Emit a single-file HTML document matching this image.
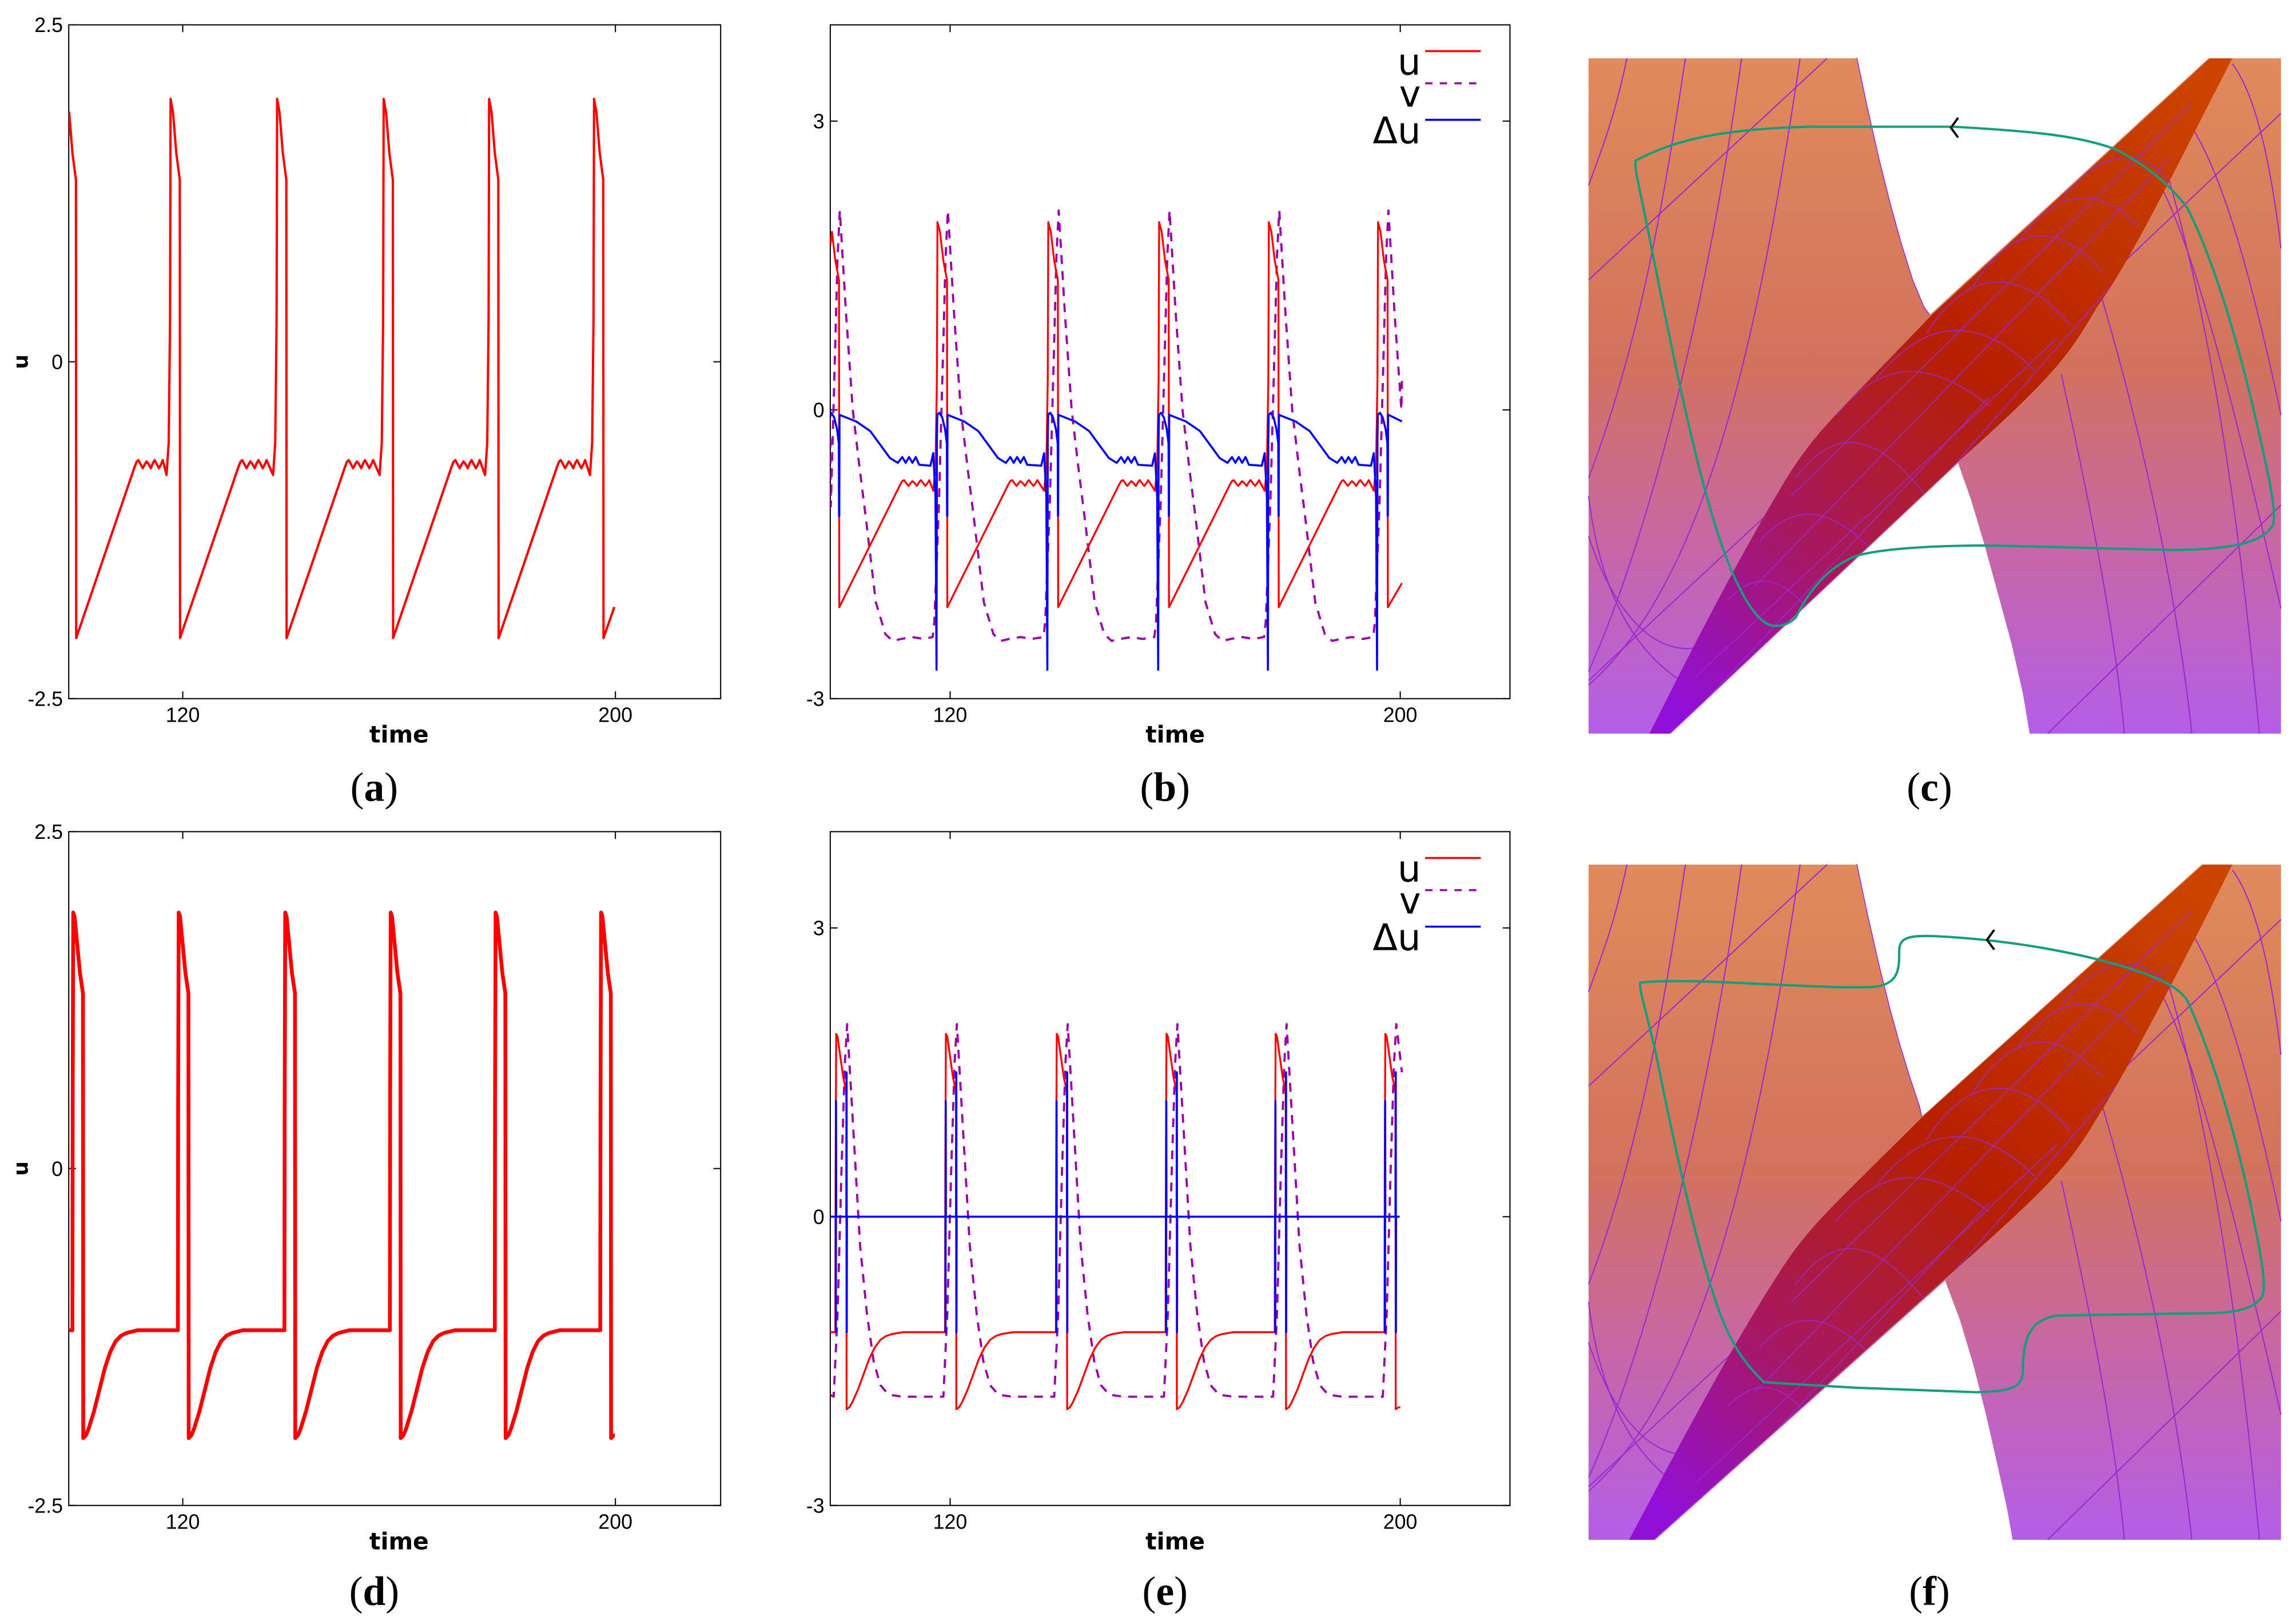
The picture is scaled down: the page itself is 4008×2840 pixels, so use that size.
<!DOCTYPE html>
<html><head><meta charset="utf-8">
<style>
html,body{margin:0;padding:0;background:#fff;}
svg{display:block;}
.tk{font-family:"Liberation Sans",sans-serif;font-size:14px;fill:#000;}
.ttl{font-family:"DejaVu Sans","Liberation Sans",sans-serif;font-size:16px;font-weight:bold;fill:#000;}
.cap{font-family:"Liberation Serif",serif;font-size:28px;fill:#000;}
.leg{font-family:"DejaVu Sans","Liberation Sans",sans-serif;font-size:25px;fill:#000;}
</style></head>
<body>
<svg id="fig" xmlns="http://www.w3.org/2000/svg" width="4008" height="2840" viewBox="0 0 1568 1111.1">
<defs>
  <linearGradient id="sheetG" x1="0" y1="0" x2="0" y2="1">
    <stop offset="0" stop-color="#e08b5b"/>
    <stop offset="0.45" stop-color="#d2725c"/>
    <stop offset="0.7" stop-color="#c868a0"/>
    <stop offset="1" stop-color="#b45ee8"/>
  </linearGradient>
  <linearGradient id="ribG" x1="0.9" y1="0" x2="0.1" y2="1">
    <stop offset="0" stop-color="#cc4400"/>
    <stop offset="0.45" stop-color="#b52000"/>
    <stop offset="0.75" stop-color="#a81860"/>
    <stop offset="1" stop-color="#9010d8"/>
  </linearGradient>
  <clipPath id="clipA"><rect x="47" y="17" width="446" height="461"/></clipPath>
  <clipPath id="clipB"><rect x="568" y="17" width="465" height="461"/></clipPath>
  <clipPath id="clipD"><rect x="47" y="569" width="446" height="461"/></clipPath>
  <clipPath id="clipE"><rect x="568" y="569" width="465" height="461"/></clipPath>
</defs>
<g id="layer"></g>
</svg>
<script>
// ---------- data: sequence 1 (panels a, b) ----------
const drops1=[100.3,119.5,139.2,158.9,178.4,197.8];
const uPostT1=[0,10.8,11.2,11.5,11.9,12.3,12.7,13.0,13.4,13.8,14.2,14.5,14.9,15.3,15.7,16.0];
const uPostV1=[-2.05,-0.78,-0.74,-0.73,-0.76,-0.79,-0.76,-0.74,-0.76,-0.79,-0.75,-0.73,-0.76,-0.79,-0.76,-0.73];
const uPreT1=[-2.5,-2.1,-1.85,-1.75,-1.3,-0.7,-0.05];
const uPreV1=[-0.84,-0.6,0.3,1.95,1.85,1.55,1.35];
const vPostT1=[0.1,1.2,2.4,3.6,4.8,6.5,8.2,9.5,11,13,15];
const vPostV1=[2.07,1.0,0,-0.6,-1.16,-2.0,-2.33,-2.4,-2.38,-2.36,-2.38];
const vPreT1=[-2.6,-2.3,-1.5,-0.8,-0.3];
const vPreV1=[-2.36,-2.2,-1.0,0.5,1.6];
const duPostT1=[0,0.04,0.4,3,5.5,7.5,9,10.4,10.8,11.2,11.5,11.8,12.1,12.4,12.7,13.0,13.3,13.6,13.9,14.2];
const duPostV1=[-1.1,-0.05,-0.06,-0.12,-0.22,-0.38,-0.5,-0.55,-0.52,-0.49,-0.52,-0.55,-0.52,-0.49,-0.52,-0.55,-0.52,-0.49,-0.53,-0.57];
const duPreT1=[-3.0,-2.5,-2.1,-1.92,-1.85,-1.78,-1.4,-0.9,-0.4,-0.08,-0.04];
const duPreV1=[-0.58,-0.45,-0.9,-2.7,-0.3,-0.05,-0.03,-0.08,-0.2,-0.35,-1.1];
// ---------- data: sequence 2 (panels d, e) ----------
const drops2=[101.6,121.1,140.8,160.3,179.7,199.2];
const u2PostT=[0,0.5,1,2,3,4,5,6,7,8,10];
const u2PostV=[-2.0,-1.98,-1.93,-1.8,-1.64,-1.48,-1.36,-1.28,-1.24,-1.22,-1.2];
const u2PreT=[-2.0,-1.95,-1.85,-1.6,-1.2,-0.6,-0.05];
const u2PreV=[-1.2,0.5,1.9,1.87,1.7,1.45,1.3];
const v2PostT=[0.1,1.2,2.4,3.6,4.8,6,7.5,10];
const v2PostV=[2.0,0.9,-0.3,-1.0,-1.5,-1.75,-1.85,-1.87];
const v2PreT=[-2.3,-1.6,-0.9,-0.3];
const v2PreV=[-1.87,-1.0,0.5,1.6];
const du2PostT=[0,0.03,0.06];
const du2PostV=[1.5,-1.2,0];
const du2PreT=[-1.93,-1.91,-1.88,-1.85,-0.04];
const du2PreV=[0,-1.2,1.2,0,0];
// tick labels
const xTicks=[120,200];
const yTicksU=[2.5,0,-2.5];
const yTicksUV=[3,0,-3];
const yTickLabelsU=["2.5","0","-2.5"];
const yTickLabelsUV=["3","0","-3"];
const legendLabels=["u","v","Δu"];

const NS="http://www.w3.org/2000/svg";
const svg=document.getElementById('fig');
const defs=svg.querySelector('defs');
const layer=document.getElementById('layer');
function mk(tag,attrs,parent){const e=document.createElementNS(NS,tag);for(const k in attrs)e.setAttribute(k,attrs[k]);(parent||layer).appendChild(e);return e;}

function build(drops,postT,postV,preT,preV,t0,v0,t1,v1){
  const pts=[[t0,v0]];
  for(let i=0;i<drops.length;i++){
    const D=drops[i];
    for(let j=0;j<preT.length;j++){const t=D+preT[j];if(t>t0&&t<t1)pts.push([t,preV[j]]);}
    const nxt=i+1<drops.length?drops[i+1]+preT[0]:Infinity;
    for(let j=0;j<postT.length;j++){const t=D+postT[j];if(t>t0&&t<t1&&t<nxt)pts.push([t,postV[j]]);}
  }
  pts.push([t1,v1]);
  return pts;
}

function makeAxes(p){
  const g=mk('g',{});
  
  
  p.sx=t=>p.x0+(t-p.tmin)/(p.tmax-p.tmin)*(p.x1-p.x0);
  p.sy=v=>p.y1-(v-p.vmin)/(p.vmax-p.vmin)*(p.y1-p.y0);
  const fr=mk('rect',{x:p.x0,y:p.y0,width:p.x1-p.x0,height:p.y1-p.y0,fill:'none',stroke:'#000','stroke-width':0.8},g);
  
  
  xTicks.forEach(t=>{
    const x=p.sx(t);
    mk('line',{x1:x,x2:x,y1:p.y1,y2:p.y1-5,stroke:'#000','stroke-width':0.8},g);
    mk('line',{x1:x,x2:x,y1:p.y0,y2:p.y0+5,stroke:'#000','stroke-width':0.8},g);
    const tx=mk('text',{x:x,y:p.y1+16,'text-anchor':'middle',class:'tk'},g);
    tx.textContent=String(t);
    
    
  });
  p.yt.forEach((v,i)=>{
    const y=p.sy(v);
    mk('line',{x1:p.x0,x2:p.x0+5,y1:y,y2:y,stroke:'#000','stroke-width':0.8},g);
    mk('line',{x1:p.x1,x2:p.x1-5,y1:y,y2:y,stroke:'#000','stroke-width':0.8},g);
    const tx=mk('text',{x:p.x0-4,y:y+5,'text-anchor':'end',class:'tk'},g);
    tx.textContent=p.ytl[i];
    
    
  });
  const xt=mk('text',{x:p.sx(160),y:p.y1+30,'text-anchor':'middle',class:'ttl'},g);
  xt.textContent='time';
  
  
  if(p.ylab){
    const yt=mk('text',{x:0,y:0,'text-anchor':'middle',class:'ttl',style:'font-size:14px',transform:'translate(19,'+((p.y0+p.y1)/2)+') rotate(-90)'},g);
    yt.textContent='u';
    
    
  }
  return g;
}
function drawLine(p,pts,color,w,dash,name){
  const d=pts.map((q,i)=>(i?'L':'M')+p.sx(q[0]).toFixed(2)+','+p.sy(q[1]).toFixed(2)).join('');
  const a={d:d,fill:'none',stroke:color,'stroke-width':w,'stroke-linejoin':'round','clip-path':'url(#'+p.clip+')'};
  if(dash)a['stroke-dasharray']=dash;
  const e=mk('path',a);
  
  
}
function legend(p){
  const g=mk('g',{});
  
  
  const ys=[p.y0+26,p.y0+48,p.y0+73];
  const cols=['#ff0000','#9900aa','#0000ff'];
  legendLabels.forEach((lab,i)=>{
    const t=mk('text',{x:p.x1-61,y:ys[i]+8,'text-anchor':'end',class:'leg'},g);
    t.textContent=lab;
    
    
    const a={x1:p.x1-58,x2:p.x1-20,y1:ys[i]-8,y2:ys[i]-8,stroke:cols[i],'stroke-width':1.4};
    if(i===1)a['stroke-dasharray']='5,5';
    const l=mk('line',a,g);
    
    
  });
}
function caption(x,y,letter){
  const t=mk('text',{x:x,y:y,'text-anchor':'middle',class:'cap'});
  
  
  const s1=mk('tspan',{},t);s1.textContent='(';
  const s2=mk('tspan',{'font-weight':'bold'},t);s2.textContent=letter;
  const s3=mk('tspan',{},t);s3.textContent=')';
}

const PA={name:'panel-a',x0:47,x1:493,y0:17,y1:478,tmin:98.92,tmax:219.46,vmin:-2.5,vmax:2.5,yt:yTicksU,ytl:yTickLabelsU,ylab:true,clip:'clipA'};
const PB={name:'panel-b',x0:568,x1:1033,y0:17,y1:478,tmin:98.7,tmax:219.5,vmin:-3,vmax:4,yt:yTicksUV,ytl:yTickLabelsUV,ylab:false,clip:'clipB'};
const PD={name:'panel-d',x0:47,x1:493,y0:569,y1:1030,tmin:98.92,tmax:219.46,vmin:-2.5,vmax:2.5,yt:yTicksU,ytl:yTickLabelsU,ylab:true,clip:'clipD'};
const PE={name:'panel-e',x0:568,x1:1033,y0:569,y1:1030,tmin:98.7,tmax:219.5,vmin:-3,vmax:4,yt:yTicksUV,ytl:yTickLabelsUV,ylab:false,clip:'clipE'};
[PA,PB,PD,PE].forEach(makeAxes);

drawLine(PA,build(drops1,uPostT1,uPostV1,uPreT1,uPreV1,98.92,1.68,199.8,-1.82),'#ff0000',1.6,null,'u-series');
drawLine(PB,build(drops1,vPostT1,vPostV1,vPreT1,vPreV1,98.7,-0.3,200.3,0.3),'#9900aa',1.5,'6,5','v-series');
drawLine(PB,build(drops1,uPostT1,uPostV1,uPreT1,uPreV1,98.7,1.7,200.3,-1.8),'#ff0000',1.3,null,'u-series');
drawLine(PB,build(drops1,duPostT1,duPostV1,duPreT1,duPreV1,98.7,-0.07,200.3,-0.12),'#0000ff',1.4,null,'delta-u-series');
legend(PB);
drawLine(PD,build(drops2,u2PostT,u2PostV,u2PreT,u2PreV,98.92,-1.2,199.9,-1.98),'#ff0000',2.6,null,'u-series');
drawLine(PE,build(drops2,v2PostT,v2PostV,v2PreT,v2PreV,98.7,-1.85,200.3,1.5),'#9900aa',1.5,'6,5','v-series');
drawLine(PE,build(drops2,u2PostT,u2PostV,u2PreT,u2PreV,98.7,-1.2,200.0,-1.98),'#ff0000',1.3,null,'u-series');
drawLine(PE,build(drops2,du2PostT,du2PostV,du2PreT,du2PreV,98.7,0,199.9,0),'#0000ff',1.4,null,'delta-u-series');
legend(PE);

// ---------- 3D surface panels ----------
function P(x,y,ty){return (1083.7+x*0.308).toFixed(1)+','+(ty+y*0.308).toFixed(1);}
function pathFrom(cmds,ty){
  return cmds.map(c=>{
    if(c[0]==='Z')return 'Z';
    let s=c[0];
    for(let i=1;i<c.length;i+=2)s+=(i>1?' ':'')+P(c[i],c[i+1],ty);
    return s;
  }).join(' ');
}
function polyFrom(pts,ty){return pts.map(q=>P(q[0],q[1],ty)).join(' ');}
function surface(ty,variant){
  const isC=(variant==='c');
  const g=mk('g',{});
  
  
  const bx=1083.7+10*0.308, by=ty+28*0.308;
  mk('rect',{x:bx,y:by,width:1538*0.308,height:1500*0.308,fill:'url(#sheetG)'},g);
  const gl={fill:'none',stroke:'#9a2ad0','stroke-width':0.8};
  [[['M',95,28],['C',70,150,40,230,10,310]],[['M',225,28],['C',170,400,110,700,10,960]],[['M',350,28],['C',270,600,140,1100,10,1390]],
   [['M',480,28],['C',380,700,260,1200,10,1420]],[['M',10,1000],['C',40,1250,140,1400,300,1450]],[['M',10,1090],['C',80,1300,200,1400,330,1300]],
   [['M',540,28],['L',10,520]],[['M',10,1410],['L',580,880]],[['M',1060,730],['C',1120,1000,1180,1300,1200,1528]],
   [['M',1150,560],['C',1250,900,1320,1250,1350,1528]],[['M',1300,300],['C',1400,650,1460,1100,1500,1528]],
   [['M',1440,40],['C',1500,120,1530,300,1548,450]],[['M',1548,150],['L',1200,480]],[['M',1548,1020],['L',1030,1528]],
   [['M',1300,120],['C',1400,200,1480,500,1548,820]],[['M',1220,230],['C',1320,300,1420,700,1548,1250]]]
   .forEach(c=>mk('path',Object.assign({d:pathFrom(c,ty)},gl),g));
  // ribbon (middle branch)
  const rib=isC?[['M',145,1528],['C',230,1360,330,1160,450,960],['C',520,850,560,820,770,600],['L',1390,28],['L',1440,28],['C',1340,220,1220,470,1140,580],['C',1080,680,1060,720,830,925],['L',190,1528],['Z']]
              :[['M',100,1528],['C',200,1340,320,1110,430,940],['C',500,830,540,800,750,590],['L',1375,28],['L',1440,28],['C',1340,230,1210,480,1140,590],['C',1080,690,1050,730,800,950],['L',155,1528],['Z']];
  const rb=mk('path',{d:pathFrom(rib,ty),fill:'url(#ribG)'},g);
  
  
  const cp=mk('clipPath',{id:'ribClip'+variant},defs);
  mk('path',{d:pathFrom(rib,ty)},cp);
  const rg=mk('g',{'clip-path':'url(#ribClip'+variant+')'},g);
  const rl={fill:'none',stroke:'#9a2ad0','stroke-width':0.7,opacity:0.85};
  [[['M',560,820],['C',660,700,760,690,900,800]],[['M',650,740],['C',760,600,880,600,1000,720]],[['M',760,640],['C',860,480,980,500,1080,620]],
   [['M',860,540],['C',960,380,1060,400,1150,500]],[['M',960,440],['C',1060,300,1150,320,1230,400]],[['M',1060,340],['C',1160,220,1240,230,1300,300]],
   [['M',470,960],['C',560,840,650,860,760,1000]],[['M',390,1100],['C',480,1000,560,1040,640,1120]],[['M',320,1230],['C',400,1150,460,1200,520,1280]],
   [['M',300,1528],['L',1200,500]],[['M',250,1400],['L',1050,650]],[['M',460,1000],['L',1350,130]],[['M',200,1528],['L',900,780]],[['M',380,1200],['L',1300,250]]]
   .forEach(c=>mk('path',Object.assign({d:pathFrom(c,ty)},rl),rg));
  // white gaps between sheet folds, drawn as explicit polygons (after ribbon; they touch only its edge)
  const gap1=isC?[[606,27],[630,140],[655,250],[680,350],[705,440],[730,520],[755,580],[768,598],[1388,27]]
                :[[606,27],[630,140],[655,250],[680,350],[702,430],[725,505],[745,565],[750,588],[1373,27]];
  const gap2=isC?[[192,1529],[831,927],[860,1010],[890,1110],[920,1220],[950,1330],[975,1440],[990,1529]]
                :[[157,1529],[802,952],[835,1040],[865,1140],[893,1250],[920,1370],[940,1460],[952,1529]];
  const e1=mk('polygon',{points:polyFrom(gap1,ty),fill:'#ffffff',stroke:'none'},g);
  
  
  const e2=mk('polygon',{points:polyFrom(gap2,ty),fill:'#ffffff',stroke:'none'},g);
  
  
  // left sheet rim line
  mk('polyline',{points:polyFrom(gap1.slice(0,8),ty),fill:'none',stroke:'#9a2ad0','stroke-width':0.6},g);
  // trajectory
  const traj=isC?[['M',115,255],['C',200,210,300,185,500,180],['L',820,180],['C',1000,190,1100,200,1180,230],['C',1260,270,1310,320,1340,360],['C',1400,480,1450,650,1490,820],['C',1520,950,1540,1040,1530,1065],['C',1510,1100,1450,1120,1300,1120],['L',900,1110],['C',750,1110,640,1120,600,1135],['C',540,1160,500,1210,470,1270],['C',450,1290,420,1295,400,1280],['C',360,1250,320,1160,290,1060],['C',240,900,190,650,150,450],['C',125,320,110,270,115,255],['Z']]
             :[['M',125,290],['C',250,278,500,305,640,300],['C',700,295,700,260,700,220],['C',700,190,720,185,780,187],['C',950,195,1100,225,1200,255],['C',1280,280,1320,300,1340,330],['C',1400,460,1450,640,1480,780],['C',1505,900,1518,970,1505,990],['C',1480,1020,1440,1025,1350,1025],['L',1050,1030],['C',990,1040,975,1080,975,1150],['C',975,1190,950,1198,870,1200],['L',600,1190],['L',400,1178],['C',360,1140,330,1100,300,1020],['C',250,880,200,650,160,450],['C',140,360,120,300,125,290],['Z']];
  const tr=mk('path',{d:pathFrom(traj,ty),fill:'none',stroke:'#139e7c','stroke-width':1.6,'stroke-linejoin':'round'},g);
  
  
  const ax=isC?815:895, ay=isC?182:195;
  const ar=mk('path',{d:pathFrom([['M',ax+16,ay-22],['L',ax,ay],['L',ax+16,ay+22]],ty),fill:'none',stroke:'#000','stroke-width':1.5},g);
  
  
}
surface(31.3,'c');
surface(582.9,'f');

caption(256,548,'a');caption(797,548,'b');caption(1320,548,'c');
caption(256,1098,'d');caption(797,1098,'e');caption(1320,1098,'f');
</script>
</body></html>
